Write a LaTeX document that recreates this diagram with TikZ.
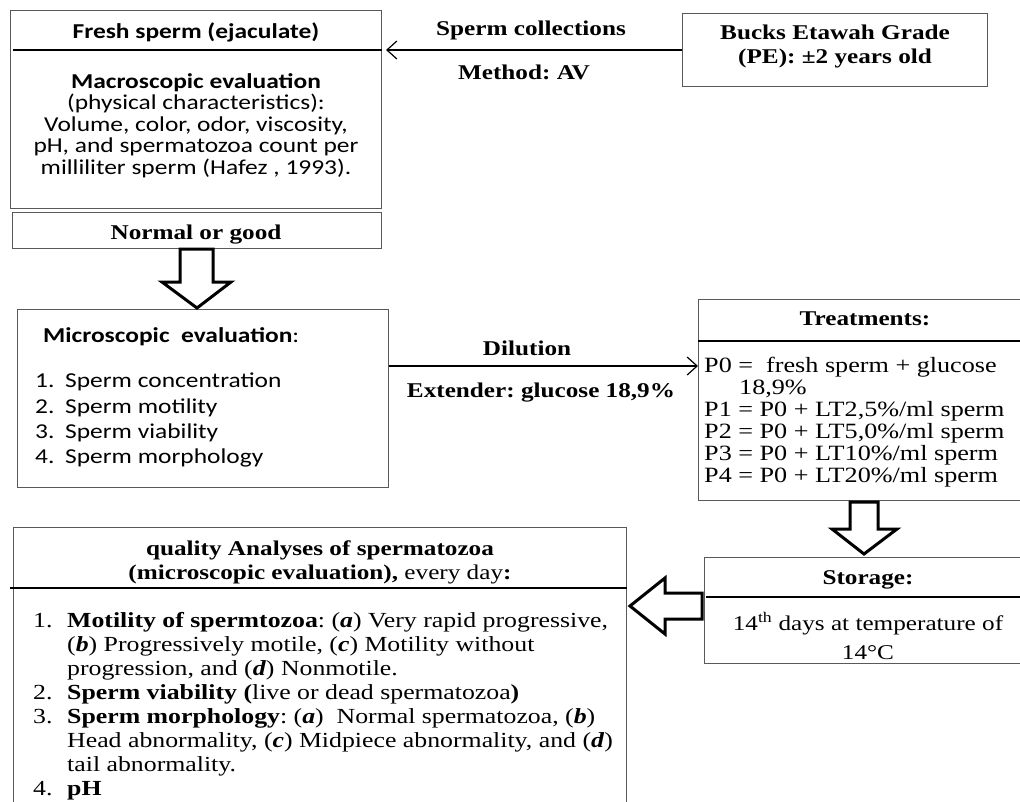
\documentclass[tikz,border=0pt]{standalone}
\usepackage{fontspec}
\setmainfont{Liberation Serif}[FakeStretch=1.2]
\newfontfamily\calfont{Carlito}[FakeStretch=1.2]
\usetikzlibrary{arrows.meta}
\frenchspacing
\newcommand\bibf[1]{\textbf{\textit{#1}}}
\tikzset{
  box/.style={draw=black!65, line width=1pt, inner sep=0pt, anchor=north west},
  divider/.style={draw=black, line width=1.8pt},
  hollow/.style={draw=black, line width=3pt, line join=miter, fill=white},
  conn/.style={draw=black, line width=1.2pt, -{Straight Barb[length=10pt,width=18pt]}},
  tm/.style={inner sep=0pt, anchor=base, font=\fontsize{21}{21}\selectfont},
  tmb/.style={inner sep=0pt, anchor=base, font=\fontsize{21}{21}\selectfont\bfseries},
  tml/.style={inner sep=0pt, anchor=base west, font=\fontsize{21.5}{21}\selectfont},
  tmt/.style={inner sep=0pt, anchor=base west, font=\fontsize{21.8}{21}\selectfont},
  cb/.style={inner sep=0pt, anchor=base, font=\calfont\fontsize{21.2}{21}\selectfont},
  cbb/.style={inner sep=0pt, anchor=base, font=\calfont\fontsize{21.2}{21}\selectfont\bfseries},
  cl/.style={inner sep=0pt, anchor=base west, font=\calfont\fontsize{21.2}{21}\selectfont},
}
\begin{document}
\begin{tikzpicture}[x=1pt,y=-1pt]
\useasboundingbox (0,0) rectangle (1020,801);
\clip (0,0) rectangle (1020,801);

% ---------- boxes ----------
\node[box, minimum width=371pt, minimum height=198pt] (fresh) at (10,10) {};
\node[box, minimum width=369pt, minimum height=36pt] (normal) at (12,212) {};
\node[box, minimum width=371pt, minimum height=178pt] (micro) at (17,309) {};
\node[box, minimum width=305pt, minimum height=73pt] (bucks) at (682,13) {};
\node[box, minimum width=330pt, minimum height=201pt] (treat) at (698,299) {};
\node[box, minimum width=330pt, minimum height=106pt] (storage) at (704,557) {};
\node[box, minimum width=613pt, minimum height=320pt] (quality) at (13,527) {};

% ---------- dividers ----------
\draw[divider] ([xshift=3pt]fresh.west |- 0,50) -- (fresh.east |- 0,50);
\draw[divider] (treat.west |- 0,341) -- (treat.east |- 0,341);
\draw[divider] ([xshift=2pt]storage.west |- 0,597) -- (storage.east |- 0,597);
\draw[divider] ([xshift=-3pt]quality.west |- 0,588) -- (quality.east |- 0,588);

% ---------- connectors ----------
\draw[conn] (bucks.west) -- ([xshift=4pt]bucks.west -| fresh.east);
\draw[conn] (micro.east |- 0,366) -- (treat.west |- 0,366);

% ---------- block arrows ----------
\draw[hollow] (180,249) -- (213,249) -- (213,282) -- (231,282) -- (197,308) -- (162,282) -- (180,282) -- cycle;
\draw[hollow] (850,502) -- (878,502) -- (878,529) -- (897,529) -- (864,554) -- (832,529) -- (850,529) -- cycle;
\draw[hollow] (702,593) -- (665,593) -- (665,578) -- (630,606) -- (665,634) -- (665,619) -- (702,619) -- cycle;

% ---------- texts: top ----------
\node[tmb] (lblColl) at (531,35) {Sperm collections};
\node[tmb] (lblMeth) at (524,79) {Method: AV};
\node[tmb] (bucks1) at (835,39) {Bucks Etawah Grade};
\node[tmb] (bucks2) at (835,63) {(PE): ±2 years old};

\node[cbb] (freshT) at (196,38) {Fresh sperm (ejaculate)};
\node[cbb] (f1) at (196,88) {Macroscopic evaluation};
\node[cb] (f2) at (196,109.5) {(physical characteristics):};
\node[cb] (f3) at (196,131) {Volume, color, odor, viscosity,};
\node[cb] (f4) at (196,152.5) {pH, and spermatozoa count per};
\node[cb] (f5) at (196,174) {milliliter sperm (Hafez , 1993).};

\node[tmb] (normalT) at (196,239) {Normal or good};

% ---------- microscopic ----------
\node[cl] (microT) at (43,342) {\textbf{Microscopic\ \ evaluation}:};
\node[cl] (m1) at (35,387) {\makebox[30pt][l]{1.}Sperm concentration};
\node[cl] (m2) at (35,413) {\makebox[30pt][l]{2.}Sperm motility};
\node[cl] (m3) at (35,438) {\makebox[30pt][l]{3.}Sperm viability};
\node[cl] (m4) at (35,463) {\makebox[30pt][l]{4.}Sperm morphology};

\node[tmb] (lblDil) at (527,355) {Dilution};
\node[tmb] (lblExt) at (541,397) {Extender: glucose 18,9\%};

% ---------- treatments ----------
\node[tmb] (treatT) at (865,325) {Treatments:};
\node[tmt] (t0) at (704,372) {P0 =\ \ fresh sperm + glucose};
\node[tmt] (t0b) at (739,394) {18,9\%};
\node[tmt] (t1) at (704,416) {P1 = P0 + LT2,5\%/ml sperm};
\node[tmt] (t2) at (704,438) {P2 = P0 + LT5,0\%/ml sperm};
\node[tmt] (t3) at (704,460) {P3 = P0 + LT10\%/ml sperm};
\node[tmt] (t4) at (704,482) {P4 = P0 + LT20\%/ml sperm};

% ---------- storage ----------
\node[tmb] (storT) at (868,584) {Storage:};
\node[tm] (s1) at (868,630) {14\textsuperscript{th} days at temperature of};
\node[tm] (s2) at (868,659) {14°C};

% ---------- quality ----------
\node[tmb] (qT1) at (320,555) {quality Analyses of spermatozoa};
\node[tm] (qT2) at (320,579) {\textbf{(microscopic evaluation),} every day\textbf{:}};
\node[tml] (q1) at (33,627) {\makebox[34pt][l]{1.}\textbf{Motility of spermtozoa}: (\bibf{a}) Very rapid progressive,};
\node[tml] (q2) at (33,651) {\hspace*{34pt}(\bibf{b}) Progressively motile, (\bibf{c}) Motility without};
\node[tml] (q3) at (33,675) {\hspace*{34pt}progression, and (\bibf{d}) Nonmotile.};
\node[tml] (q4) at (33,699) {\makebox[34pt][l]{2.}\textbf{Sperm viability (}live or dead spermatozoa\textbf{)}};
\node[tml] (q5) at (33,723) {\makebox[34pt][l]{3.}\textbf{Sperm morphology}: (\bibf{a})\ \ Normal spermatozoa, (\bibf{b})};
\node[tml] (q6) at (33,747) {\hspace*{34pt}Head abnormality, (\bibf{c}) Midpiece abnormality, and (\bibf{d})};
\node[tml] (q7) at (33,771) {\hspace*{34pt}tail abnormality.};
\node[tml] (q8) at (33,795) {\makebox[34pt][l]{4.}\textbf{pH}};
\end{tikzpicture}
\end{document}
